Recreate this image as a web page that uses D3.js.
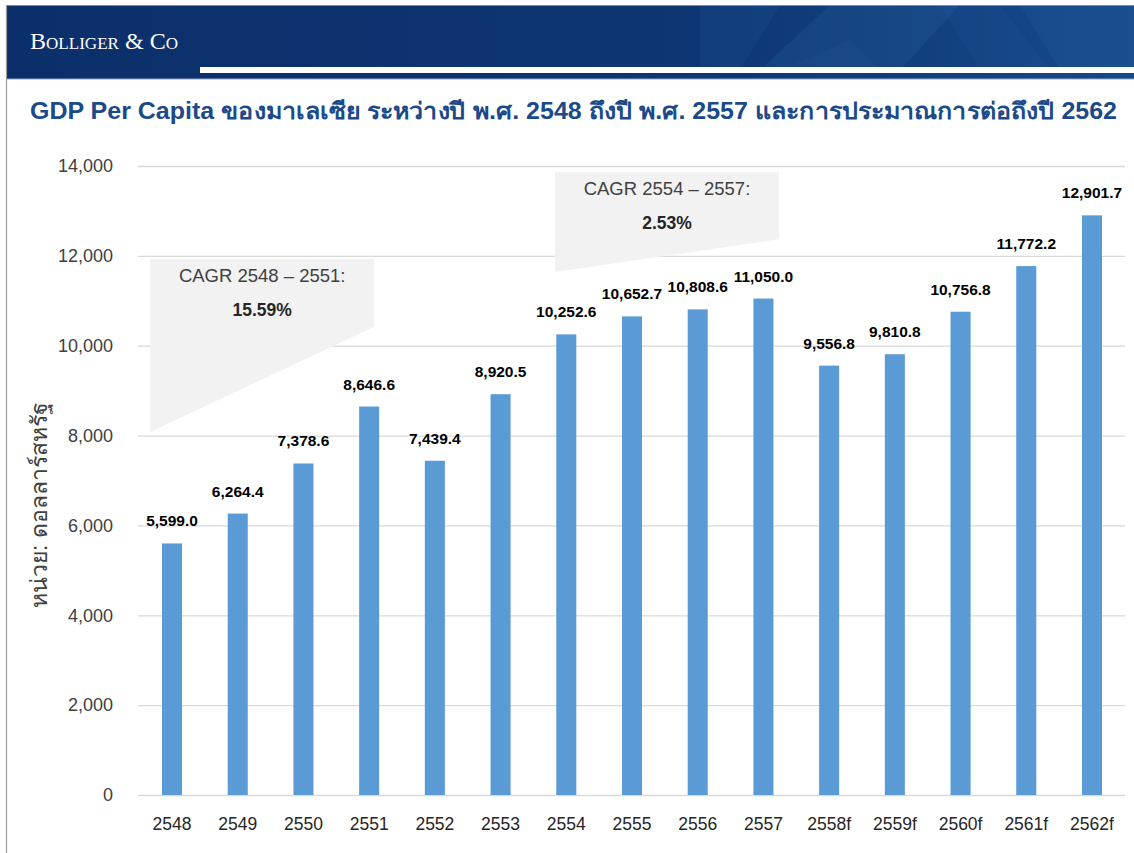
<!DOCTYPE html>
<html>
<head>
<meta charset="utf-8">
<script src="https://cdn.jsdelivr.net/npm/d3@7"></script>
<style>
  body { margin: 0; background: #fff; }
  svg { display: block; font-family: "Liberation Sans", Arial, sans-serif; }
</style>
</head>
<body>
<svg width="1134" height="853"></svg>
<script>
"use strict";

// data
var years = ["2548", "2549", "2550", "2551", "2552", "2553", "2554", "2555",
             "2556", "2557", "2558f", "2559f", "2560f", "2561f", "2562f"];
var gdpPerCapita = [5599.0, 6264.4, 7378.6, 8646.6, 7439.4, 8920.5, 10252.6, 10652.7,
                    10808.6, 11050.0, 9556.8, 9810.8, 10756.8, 11772.2, 12901.7];
var yTicks = [0, 2000, 4000, 6000, 8000, 10000, 12000, 14000];
var cagrLabels = ["CAGR 2548 \u2013 2551:", "CAGR 2554 \u2013 2557:"];
var cagrValues = ["15.59%", "2.53%"];

var svg = d3.select("svg");
var width = 1134, height = 853;

// header banner
var defs = svg.append("defs");
var grad = defs.append("linearGradient").attr("id", "bannerGrad")
    .attr("x1", "0%").attr("x2", "100%");
grad.append("stop").attr("offset", "0%").attr("stop-color", "#0b2f6b");
grad.append("stop").attr("offset", "60%").attr("stop-color", "#0d3672");
grad.append("stop").attr("offset", "100%").attr("stop-color", "#16498a");

svg.append("rect").attr("x", 6).attr("y", 5).attr("width", width - 6).attr("height", 74)
    .attr("fill", "url(#bannerGrad)");
var facets = [
  [[700, 5], [780, 5], [740, 70], [700, 70]],
  [[760, 70], [830, 5], [960, 5], [900, 70]],
  [[940, 5], [1000, 5], [1050, 70], [980, 70]],
  [[1020, 5], [1134, 5], [1134, 70], [1060, 70]],
  [[780, 70], [850, 40], [880, 70]]
];
svg.append("g").selectAll("polygon").data(facets).enter().append("polygon")
    .attr("points", function(d) { return d.join(" "); })
    .attr("fill", "#3a78b8")
    .attr("opacity", function(d, i) { return [0.1, 0.15, 0.08, 0.12, 0.08][i]; });
svg.append("rect").attr("x", 200).attr("y", 67).attr("width", width - 200).attr("height", 6)
    .attr("fill", "#fff");
svg.append("line").attr("x1", 6).attr("x2", width).attr("y1", 79).attr("y2", 79)
    .attr("stroke", "#8fa6c4").attr("stroke-width", 1);
svg.append("line").attr("x1", 6.5).attr("x2", 6.5).attr("y1", 5).attr("y2", height)
    .attr("stroke", "#9a9a9a").attr("stroke-width", 1.2);
svg.append("line").attr("x1", 6).attr("x2", width).attr("y1", 5.5).attr("y2", 5.5)
    .attr("stroke", "#8a8a8a").attr("stroke-width", 1);

svg.append("text").attr("x", 30).attr("y", 49)
    .attr("font-family", "'Liberation Serif', 'DejaVu Serif', serif")
    .attr("font-size", 24).attr("fill", "#fff")
    .attr("textLength", 148).attr("lengthAdjust", "spacingAndGlyphs")
    .style("font-variant", "small-caps")
    .text("Bolliger & Co");

// title
svg.append("text").attr("x", 30).attr("y", 119)
    .attr("font-size", 23).attr("font-weight", "bold").attr("fill", "#1b4a8a")
    .attr("textLength", 1087).attr("lengthAdjust", "spacingAndGlyphs")
    .text("GDP Per Capita ของมาเลเซีย ระหว่างปี พ.ศ. 2548 ถึงปี พ.ศ. 2557 และการประมาณการต่อถึงปี 2562");

// scales
var x = d3.scaleBand().domain(years).range([139, 1125]).paddingInner(0.695).paddingOuter(0.35);
var step = x.step();
var y = d3.scaleLinear().domain([0, 14000]).range([795, 166]);
// helper: position in category units (0 = left edge of first band)
function xc(u) { return 139 + u * step; }

// gridlines
svg.append("g").selectAll("line").data(yTicks).enter().append("line")
    .attr("x1", 138).attr("x2", 1125)
    .attr("y1", function(d) { return y(d) + 0.5; })
    .attr("y2", function(d) { return y(d) + 0.5; })
    .attr("stroke", "#d9d9d9").attr("stroke-width", 1.3);

// CAGR callouts (in category / value units)
var cagrShapes = [
  { x0: 0.17, x1: 3.58, top: 11930, right: 10420, left: 8080 },
  { x0: 6.33, x1: 9.74, top: 13860, right: 12370, left: 11640 }
];
var callout = svg.append("g").selectAll("g").data(cagrShapes).enter().append("g");
callout.append("polygon")
    .attr("points", function(d) {
      return [[xc(d.x0), y(d.top)], [xc(d.x1), y(d.top)], [xc(d.x1), y(d.right)], [xc(d.x0), y(d.left)]].join(" ");
    })
    .attr("fill", "#f2f2f2");
callout.append("text")
    .attr("x", function(d) { return (xc(d.x0) + xc(d.x1)) / 2; })
    .attr("y", function(d) { return y(d.top) + 23; })
    .attr("text-anchor", "middle").attr("font-size", 18.5).attr("fill", "#404040")
    .text(function(d, i) { return cagrLabels[i]; });
callout.append("text")
    .attr("x", function(d) { return (xc(d.x0) + xc(d.x1)) / 2; })
    .attr("y", function(d) { return y(d.top) + 57; })
    .attr("text-anchor", "middle").attr("font-size", 17.5).attr("font-weight", "bold").attr("fill", "#262626")
    .text(function(d, i) { return cagrValues[i]; });

// bars
svg.append("g").selectAll("rect").data(gdpPerCapita).enter().append("rect")
    .attr("x", function(d, i) { return x(years[i]); })
    .attr("y", function(d) { return y(d); })
    .attr("width", x.bandwidth())
    .attr("height", function(d) { return y(0) - y(d); })
    .attr("fill", "#5b9bd5");

// value labels
svg.append("g").selectAll("text").data(gdpPerCapita).enter().append("text")
    .attr("x", function(d, i) { return x(years[i]) + x.bandwidth() / 2; })
    .attr("y", function(d) { return y(d) - 17; })
    .attr("text-anchor", "middle").attr("font-size", 15.5).attr("font-weight", "bold")
    .attr("fill", "#000")
    .text(function(d) { return d3.format(",.1f")(d); });

// axes
var yAxis = svg.append("g").attr("transform", "translate(113,0)")
    .call(d3.axisLeft(y).tickValues(yTicks).tickSize(0).tickPadding(0).tickFormat(d3.format(",")));
yAxis.select(".domain").remove();
yAxis.selectAll("text").attr("font-size", 18).attr("fill", "#404040")
    .attr("font-family", "'Liberation Sans', Arial, sans-serif");

var xAxis = svg.append("g").attr("transform", "translate(0,818)")
    .call(d3.axisBottom(x).tickSize(0).tickPadding(0));
xAxis.select(".domain").remove();
xAxis.selectAll("text").attr("font-size", 17.5).attr("fill", "#262626")
    .attr("font-family", "'Liberation Sans', Arial, sans-serif");

// y title
svg.append("text")
    .attr("transform", "translate(47,505) rotate(-90)")
    .attr("text-anchor", "middle").attr("font-size", 23).attr("fill", "#404040")
    .text("หน่วย: ดอลลาร์สหรัฐ");
</script>
</body>
</html>
